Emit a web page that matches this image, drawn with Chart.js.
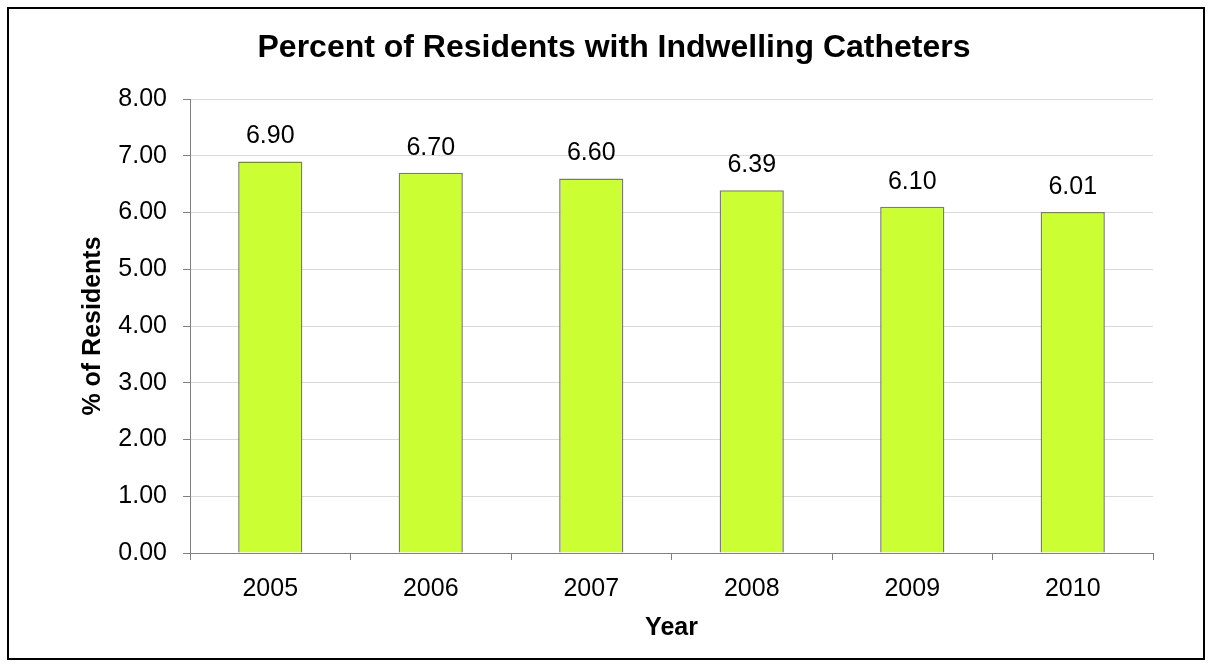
<!DOCTYPE html>
<html lang="en">
<head>
  <meta charset="UTF-8" />
  <title>Percent of Residents with Indwelling Catheters</title>
  <script src="https://cdn.jsdelivr.net/npm/chart.js"></script>
  <style>
    html, body {
      margin: 0;
      padding: 0;
      background: #ffffff;
    }
    #wrap {
      width: 1212px;
      height: 665px;
    }
  </style>
</head>
<body>
  <div id="wrap"><canvas id="grafico" width="1212" height="665"></canvas></div>

  <script>
    const anos = ['2005', '2006', '2007', '2008', '2009', '2010'];
    const percentuais = [6.90, 6.70, 6.60, 6.39, 6.10, 6.01];
    const ticksY = [0, 1, 2, 3, 4, 5, 6, 7, 8];

    const fonte = "'Liberation Sans', Arial, sans-serif";

    // moldura preta em volta do grafico
    const moldura = {
      id: 'moldura',
      afterDraw(chart) {
        const ctx = chart.ctx;
        ctx.save();
        ctx.strokeStyle = '#000';
        ctx.lineWidth = 2;
        ctx.strokeRect(8, 8, 1196, 651);
        ctx.restore();
      }
    };

    // rotulos de valor acima das barras
    const rotulos = {
      id: 'rotulos',
      afterDatasetsDraw(chart) {
        const ctx = chart.ctx;
        const meta = chart.getDatasetMeta(0);
        ctx.save();
        ctx.font = '25px ' + fonte;
        ctx.fillStyle = '#000';
        ctx.textAlign = 'center';
        ctx.textBaseline = 'alphabetic';
        meta.data.forEach((barra, i) => {
          ctx.fillText(percentuais[i].toFixed(2), barra.x, barra.y - 18);
        });
        ctx.restore();
      }
    };

    new Chart(document.getElementById('grafico'), {
      type: 'bar',
      data: {
        labels: anos,
        datasets: [{
          data: percentuais,
          backgroundColor: '#ccff33',
          borderColor: '#7a7a7a',
          borderWidth: 1.5,
          categoryPercentage: 1,
          barPercentage: 0.4
        }]
      },
      options: {
        responsive: false,
        animation: false,
        layout: { padding: { left: 75, right: 59, top: 10, bottom: 0 } },
        plugins: {
          legend: { display: false },
          tooltip: { enabled: false },
          title: {
            display: true,
            text: 'Percent of Residents with Indwelling Catheters',
            color: '#000',
            font: { family: fonte, size: 32, weight: 'bold', lineHeight: 1.2 },
            padding: { top: 19, bottom: 31.6 }
          }
        },
        scales: {
          x: {
            afterFit(scale) { scale.height = 112; },
            grid: {
              offset: true,
              drawOnChartArea: false,
              tickLength: 7,
              tickColor: '#808080'
            },
            border: { color: '#808080', width: 1 },
            ticks: {
              color: '#000',
              padding: 14,
              font: { family: fonte, size: 25 }
            },
            title: {
              display: true,
              text: 'Year',
              color: '#000',
              font: { family: fonte, size: 25, weight: 'bold', lineHeight: 1.2 },
              padding: { top: 0, bottom: 22 }
            }
          },
          y: {
            min: ticksY[0],
            max: ticksY[ticksY.length - 1],
            afterFit(scale) { scale.width = 115; },
            afterBuildTicks(scale) { scale.ticks = ticksY.map(v => ({ value: v })); },
            grid: {
              color: '#d9d9d9',
              tickColor: '#808080',
              tickLength: 7,
              lineWidth: 1
            },
            border: { color: '#808080', width: 1 },
            ticks: {
              color: '#000',
              padding: 16,
              font: { family: fonte, size: 25 },
              callback: v => Number(v).toFixed(2)
            },
            title: {
              display: true,
              text: '% of Residents',
              color: '#000',
              font: { family: fonte, size: 25, weight: 'bold', lineHeight: 1.2 },
              padding: { top: 3, bottom: 0 }
            }
          }
        }
      },
      plugins: [moldura, rotulos]
    });
  </script>
</body>
</html>
